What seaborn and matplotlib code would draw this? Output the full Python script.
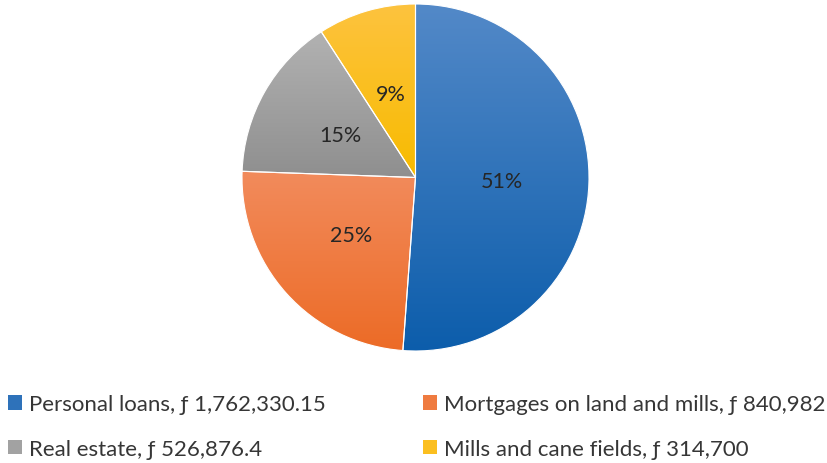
import numpy as np
import matplotlib
matplotlib.use("Agg")
import matplotlib.pyplot as plt
import seaborn as sns
from matplotlib.colors import LinearSegmentedColormap
from matplotlib.patches import Rectangle

categories = ["Personal loans", "Mortgages on land and mills", "Real estate", "Mills and cane fields"]
values = [1762330.15, 840982, 526876.4, 314700]
value_labels = ["1,762,330.15", "840,982", "526,876.4", "314,700"]
pct_labels = ["51%", "25%", "15%", "9%"]
top_colors = ["#5389c8", "#f28b5c", "#b2b2b2", "#fdc33f"]
bottom_colors = ["#0c5dab", "#ec6b26", "#8f8f8f", "#f8bb00"]
mid_colors = ["#2e72ba", "#ef7b40", "#a2a2a2", "#fbbf20"]

sns.set_theme(style="white")
plt.rcParams["font.family"] = ["Lato", "DejaVu Sans"]

fig = plt.figure(figsize=(8.28, 4.64), dpi=100)
W, H = 828, 464
cx, cy, r = 415.5, 178.5, 173.5
ax = fig.add_axes([(cx - r) / W, 1 - (cy + r) / H, 2 * r / W, 2 * r / H])

wedges, texts = ax.pie(values, startangle=90, counterclock=False, colors=mid_colors,
                       radius=1.0,
                       wedgeprops=dict(edgecolor="white", linewidth=0.8))

grad = np.linspace(0, 1, 256)[:, None]
for w, ct, cb in zip(wedges, top_colors, bottom_colors):
    verts = w.get_path().vertices
    xmin, xmax = verts[:, 0].min(), verts[:, 0].max()
    ymin, ymax = verts[:, 1].min(), verts[:, 1].max()
    cmap = LinearSegmentedColormap.from_list("g", [cb, ct])
    im = ax.imshow(grad, extent=[xmin, xmax, ymin, ymax], origin="lower", cmap=cmap,
                   aspect="auto", zorder=1, interpolation="bilinear")
    im.set_clip_path(w)
    w.set_facecolor("none")
    w.set_zorder(2)

# percentage labels at half radius
theta = 90.0
total = sum(values)
for v, lab in zip(values, pct_labels):
    span = 360.0 * v / total
    mid = np.deg2rad(theta - span / 2)
    ax.text(0.5 * np.cos(mid), 0.5 * np.sin(mid), lab, ha="center", va="center",
            fontsize=15.5, color="#262626", zorder=5)
    theta -= span

ax.set_xlim(-1, 1)
ax.set_ylim(-1, 1)
ax.set_aspect("equal")
ax.axis("off")

handles = [Rectangle((0, 0), 1, 1, facecolor=c, edgecolor="none") for c in mid_colors]
labels = [f"{c}, \u0192 {v}" for c, v in zip(categories, value_labels)]

common = dict(loc="center left", frameon=False, fontsize=16, handlelength=0.65,
              handleheight=0.65, handletextpad=0.3, labelspacing=1.1, borderpad=0,
              borderaxespad=0, labelcolor="#363636")
leg1 = fig.legend([handles[0], handles[2]], [labels[0], labels[2]],
                  bbox_to_anchor=(8 / W, 1 - 427.5 / H), **common)
leg2 = fig.legend([handles[1], handles[3]], [labels[1], labels[3]],
                  bbox_to_anchor=(423 / W, 1 - 427.5 / H), **common)

fig.savefig("out.png", dpi=100, facecolor="white")
